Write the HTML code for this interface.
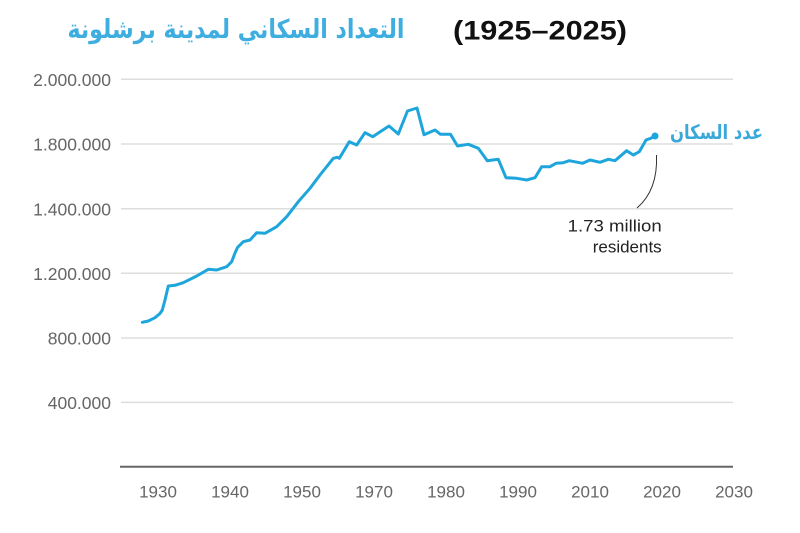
<!DOCTYPE html>
<html>
<head>
<meta charset="utf-8">
<style>
  html, body { margin: 0; padding: 0; background: #ffffff; }
  body { width: 800px; height: 533px; overflow: hidden; }
  svg { display: block; }
</style>
</head>
<body>
<svg width="800" height="533" viewBox="0 0 800 533" xmlns="http://www.w3.org/2000/svg">
  <rect x="0" y="0" width="800" height="533" fill="#ffffff"/>

  <!-- Title -->
  <text x="236" y="38" text-anchor="middle" direction="rtl" font-family="'DejaVu Sans', sans-serif" font-weight="bold" font-size="26" fill="#3eaee0" textLength="337" lengthAdjust="spacingAndGlyphs">التعداد السكاني لمدينة برشلونة</text>
  <text x="453" y="39.5" font-family="'Liberation Sans', sans-serif" font-weight="bold" font-size="27" fill="#111111" textLength="174" lengthAdjust="spacingAndGlyphs">(1925–2025)</text>

  <!-- Gridlines -->
  <g stroke="#dddddd" stroke-width="1.5">
    <line x1="121" y1="79.3" x2="733" y2="79.3"/>
    <line x1="121" y1="144" x2="733" y2="144"/>
    <line x1="121" y1="208.7" x2="733" y2="208.7"/>
    <line x1="121" y1="273.3" x2="733" y2="273.3"/>
    <line x1="121" y1="338" x2="733" y2="338"/>
    <line x1="121" y1="402.4" x2="733" y2="402.4"/>
  </g>
  <line x1="120" y1="466.7" x2="733" y2="466.7" stroke="#666666" stroke-width="2"/>

  <!-- Y labels -->
  <g font-family="'Liberation Sans', sans-serif" font-size="17.5" fill="#666666" text-anchor="end">
    <text x="111" y="86">2.000.000</text>
    <text x="111" y="150.7">1.800.000</text>
    <text x="111" y="215.4">1.400.000</text>
    <text x="111" y="280">1.200.000</text>
    <text x="111" y="344.7">800.000</text>
    <text x="111" y="409">400.000</text>
  </g>

  <!-- X labels -->
  <g font-family="'Liberation Sans', sans-serif" font-size="17" fill="#666666" text-anchor="middle">
    <text x="158" y="497.3">1930</text>
    <text x="230" y="497.3">1940</text>
    <text x="302" y="497.3">1950</text>
    <text x="374" y="497.3">1970</text>
    <text x="446" y="497.3">1980</text>
    <text x="518" y="497.3">1990</text>
    <text x="590" y="497.3">2010</text>
    <text x="662" y="497.3">2020</text>
    <text x="734" y="497.3">2030</text>
  </g>

  <!-- Data line -->
  <polyline fill="none" stroke="#1ea6dc" stroke-width="3" stroke-linejoin="round" stroke-linecap="round"
    points="142.3,322.3 148.3,321 155,317.7 160,313.5 162.3,310 165,300 168.3,286 175,285.3 183.3,282.7 196.7,276 208.3,269.3 216.7,270 226.7,266.7 231.7,261.7 235,253 237.5,247.5 243.3,241.7 250,240 256.7,232.7 265,233.3 276.7,226.7 286.7,216.7 298.3,201.7 310,188.3 320,175 333.3,158.3 337.3,157.3 339.3,158.3 349.3,141.7 356.7,145 365,132.7 372.7,136.7 389,126 398.3,134 407.5,111 417,108 424,134.7 435,130 440.5,134.3 450.5,134.3 457.5,146 468.3,144.3 478.3,148.3 487.3,160.7 498.3,159.3 506,177.7 516.7,178.3 526.7,180 535,177.7 541.7,166.7 550,166.7 556,163.3 563.3,162.7 569.3,160.7 582.7,163.3 590,160 600,162.3 608.3,159.3 615,160.7 626.7,150.7 633.3,155 639.3,151.7 646,140 650.7,138.3 655,136"/>
  <circle cx="655" cy="136" r="3.5" fill="#1ea6dc"/>

  <!-- Series label -->
  <text x="716.5" y="139" text-anchor="middle" direction="rtl" font-family="'DejaVu Sans', sans-serif" font-weight="bold" font-size="20" fill="#3aa9da" textLength="93" lengthAdjust="spacingAndGlyphs">عدد السكان</text>

  <!-- Annotation -->
  <path d="M656.5,155 C657.5,178 651,196 637,208" fill="none" stroke="#333333" stroke-width="1"/>
  <g font-family="'Liberation Sans', sans-serif" font-size="17" fill="#222222" text-anchor="end">
    <text x="661.7" y="231.5" textLength="94" lengthAdjust="spacingAndGlyphs">1.73 million</text>
    <text x="661.7" y="252.5">residents</text>
  </g>
</svg>
</body>
</html>
